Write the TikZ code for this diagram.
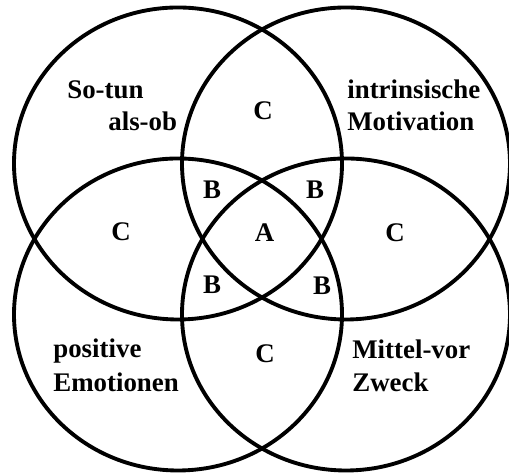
\documentclass[tikz,border=0pt]{standalone}
\usepackage{fontspec}
\setmainfont{Liberation Serif}
\tikzset{
  ring/.style={line width=2.2pt},
  zone/.style={inner sep=0pt, font=\fontsize{15.3}{18}\selectfont\bfseries},
  word/.style={zone, anchor=base west}
}
\begin{document}
\begin{tikzpicture}[scale=0.02]
  \useasboundingbox (0,0) rectangle (509,473);
  % the four sets
  \draw[ring] (178,309.5) ellipse [x radius=164, y radius=156];
  \draw[ring] (346,309.5) ellipse [x radius=164, y radius=156];
  \draw[ring] (178,158.5) ellipse [x radius=164, y radius=156];
  \draw[ring] (346,158.5) ellipse [x radius=164, y radius=156];
  % names of the sets
  \node[word] (sotun) at (67,374) {So-tun};
  \node[word] (alsob) at (108,342) {als-ob};
  \node[word] (intr) at (347,374) {intrinsische};
  \node[word] (motiv) at (347,342) {Motivation};
  \node[word] (posit) at (53,115) {positive};
  \node[word] (emot) at (53,81) {Emotionen};
  \node[word] (mittel) at (352,114) {Mittel-vor};
  \node[word] (zweck) at (352,81) {Zweck};
  % overlaps
  \node[zone] (ctop) at (263,362.5) {C};
  \node[zone] (btl) at (212,283.5) {B};
  \node[zone] (btr) at (315,283.5) {B};
  \node[zone] (cleft) at (121,241) {C};
  \node[zone] (a) at (264.5,240.5) {A};
  \node[zone] (cright) at (395,240) {C};
  \node[zone] (bbl) at (212,188) {B};
  \node[zone] (bbr) at (322,187) {B};
  \node[zone] (cbot) at (265,119) {C};
\end{tikzpicture}
\end{document}
